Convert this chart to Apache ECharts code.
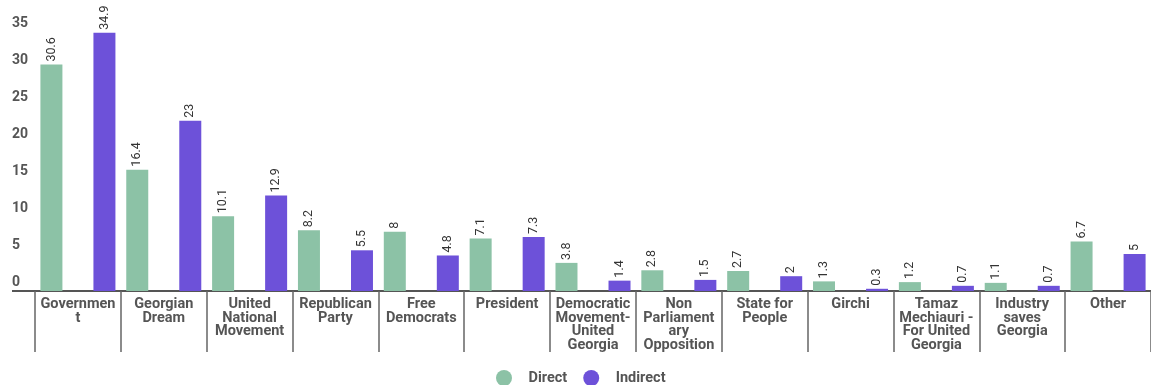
<!DOCTYPE html>
<html><head><meta charset="utf-8">
<script src="https://cdn.jsdelivr.net/npm/echarts@6/dist/echarts.min.js"></script>
<style>html,body{margin:0;padding:0;background:#fff}#c{width:1151px;height:385px}</style>
</head><body><div id="c"></div>
<script>
const categories = ["Governmen\nt","Georgian\nDream","United\nNational\nMovement","Republican\nParty","Free\nDemocrats","President","Democratic\nMovement-\nUnited\nGeorgia","Non\nParliament\nary\nOpposition","State for\nPeople","Girchi","Tamaz\nMechiauri -\nFor United\nGeorgia","Industry\nsaves\nGeorgia","Other"];
const direct = [30.6,16.4,10.1,8.2,8,7.1,3.8,2.8,2.7,1.3,1.2,1.1,6.7];
const indirect = [34.9,23,12.9,5.5,4.8,7.3,1.4,1.5,2,0.3,0.7,0.7,5];
const seriesNames = ["Direct","Indirect"];
const colors = ["#8cc2a6","#6d51d9"];

const chart = echarts.init(document.getElementById('c'));
const lbl = {show:true, position:'top', rotate:90, align:'left', verticalAlign:'middle', distance:3,
  color:'#333', fontSize:12.5, fontFamily:'Roboto'};
chart.setOption({
  animation:false,
  textStyle:{fontFamily:'Roboto'},
  grid:{left:35, top:32, width:1120, bottom:94, containLabel:false},
  legend:{top:370, left:496, padding:0, icon:'circle', itemWidth:17, itemHeight:16, itemGap:16,
    textStyle:{color:'#555', fontSize:14.5, fontWeight:'bold', fontFamily:'Roboto', padding:[0,0,0,11]}, data:seriesNames},
  xAxis:{type:'category', data:categories,
    axisLine:{lineStyle:{color:'#555', width:2}},
    axisTick:{show:true, length:61, lineStyle:{color:'#666', width:1.5}},
    axisLabel:{interval:0, color:'#555', fontSize:14.5, fontWeight:'bold', lineHeight:13.5, margin:7, fontFamily:'Roboto'}},
  yAxis:{type:'value', min:0, max:35, interval:5,
    splitLine:{show:false}, axisLine:{show:false}, axisTick:{show:false},
    axisLabel:{align:'left', verticalAlign:'bottom', margin:23, color:'#555', fontSize:14, fontWeight:'bold', padding:[0,0,2,0], fontFamily:'Roboto'}},
  graphic:[{type:'line', shape:{x1:12,y1:291,x2:36,y2:291}, style:{stroke:'#555', lineWidth:2}}],
  series:[
    {name:seriesNames[0], type:'bar', data:direct, barWidth:22, barGap:'141%', itemStyle:{color:colors[0]}, label:lbl},
    {name:seriesNames[1], type:'bar', data:indirect, barWidth:22, barGap:'141%', itemStyle:{color:colors[1]}, label:lbl}
  ]
});
</script></body></html>
